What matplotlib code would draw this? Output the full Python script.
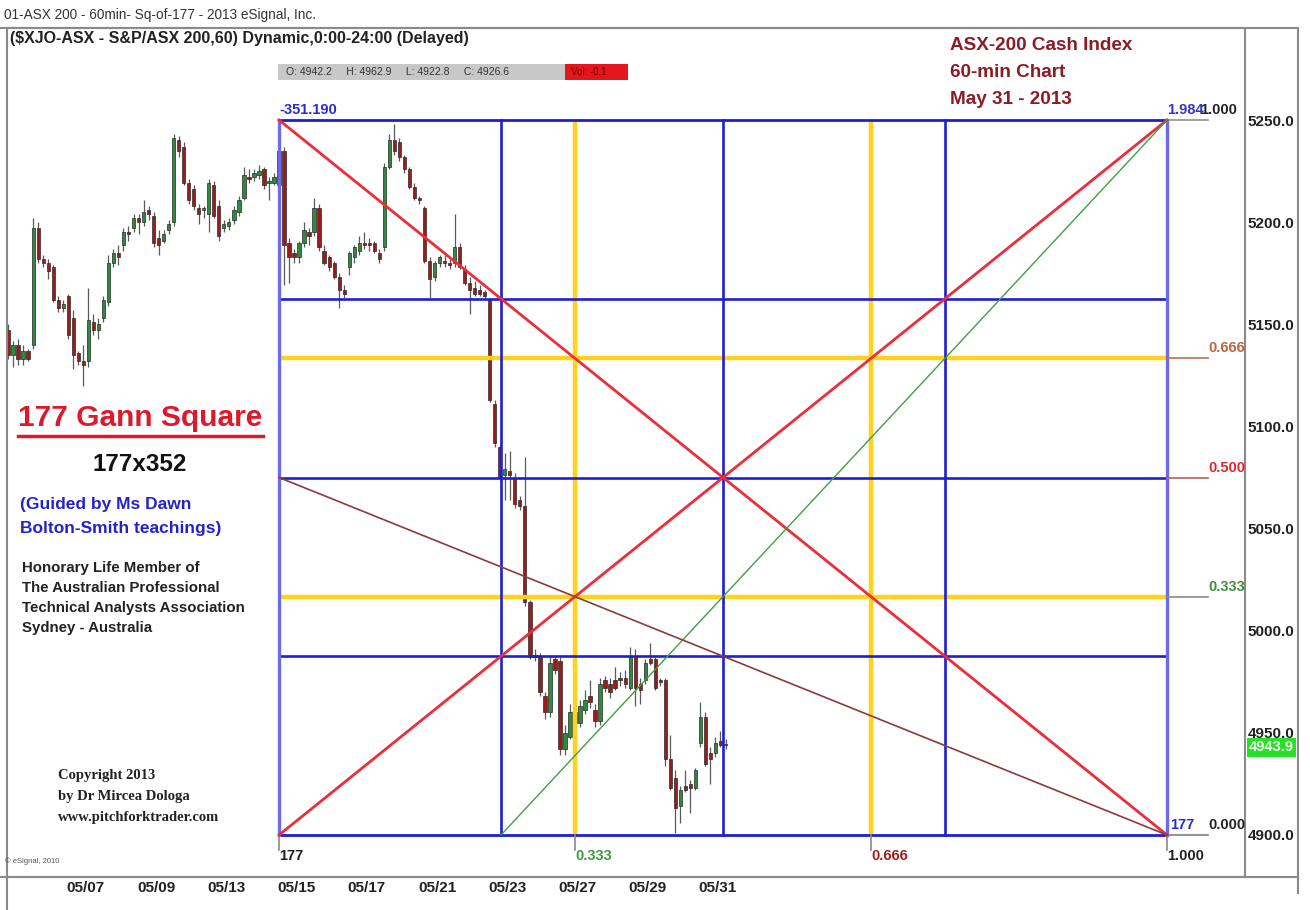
import matplotlib
matplotlib.use('Agg')
import matplotlib.pyplot as plt
import numpy as np
from matplotlib.lines import Line2D
from matplotlib.patches import Rectangle
import matplotlib.transforms as mtransforms

plt.rcParams['font.family'] = ['Liberation Sans', 'DejaVu Sans']
NARROW = ['Liberation Sans Narrow', 'Liberation Sans', 'DejaVu Sans']

# ---------------- data ----------------
first_bar = -54  # bar index of first candle (bar 0 = first hour of 05/15)

opens = [
    5147, 5135, 5140, 5133, 5137, 5140, 5197, 5182, 5180, 5178,
    5162, 5158, 5164, 5153, 5136, 5132, 5132, 5151, 5147, 5153,
    5161, 5180, 5185, 5189, 5195, 5197, 5202, 5200, 5206, 5203,
    5192, 5191, 5196, 5200, 5240, 5237, 5219, 5216, 5207, 5206,
    5204, 5218, 5208, 5197, 5198, 5201, 5205, 5212, 5222, 5222,
    5223, 5226, 5219, 5219,
    5218, 5235, 5190, 5185, 5183, 5190, 5195, 5195, 5207, 5186,
    5183, 5180, 5173, 5167, 5178, 5183, 5186, 5190, 5190, 5190,
    5185, 5188, 5227, 5240, 5239, 5232, 5226, 5217, 5212, 5207,
    5181, 5173, 5180, 5181, 5180, 5180, 5188, 5177, 5170, 5168,
    5167, 5166, 5162, 5111, 5090, 5076, 5078, 5075, 5064, 5061,
    5014, 4988, 4987, 4968, 4960, 4986, 4985, 4942, 4948, 4960,
    4955, 4961, 4968, 4961, 4956, 4976, 4974, 4976, 4977, 4977,
    4972, 4987, 4974, 4976, 4986, 4986, 4976, 4976, 4937, 4928,
    4914, 4924, 4925, 4923, 4945, 4958, 4940, 4940, 4946, 4944,
]
highs = [
    5150, 5142, 5143, 5140, 5138, 5202, 5200, 5184, 5182, 5179,
    5164, 5162, 5165, 5157, 5137, 5140, 5168, 5155, 5153, 5164,
    5184, 5187, 5189, 5197, 5198, 5204, 5204, 5211, 5208, 5205,
    5196, 5196, 5201, 5243, 5242, 5239, 5221, 5218, 5209, 5208,
    5221, 5220, 5211, 5201, 5202, 5208, 5213, 5227, 5226, 5226,
    5228, 5227, 5222, 5224,
    5238, 5237, 5192, 5187, 5191, 5200, 5197, 5212, 5209, 5189,
    5184, 5181, 5175, 5169, 5186, 5189, 5193, 5195, 5192, 5191,
    5187, 5229, 5243, 5248, 5241, 5233, 5227, 5219, 5213, 5208,
    5183, 5181, 5184, 5184, 5182, 5204, 5190, 5179, 5173, 5171,
    5169, 5167, 5163, 5113, 5091, 5087, 5088, 5077, 5066, 5085,
    5015, 4991, 4989, 4970, 4988, 4988, 4987, 4954, 4964, 4962,
    4966, 4971, 4976, 4964, 4977, 4978, 4977, 4982, 4980, 4981,
    4992, 4991, 4977, 4986, 4994, 4987, 4977, 4977, 4949, 4932,
    4924, 4932, 4927, 4933, 4965, 4960, 4943, 4948, 4951, 4947,
]
lows = [
    5133, 5129, 5130, 5130, 5132, 5138, 5180, 5178, 5172, 5161,
    5156, 5156, 5143, 5128, 5130, 5120, 5129, 5145, 5143, 5151,
    5159, 5178, 5179, 5186, 5191, 5195, 5194, 5198, 5201, 5188,
    5184, 5190, 5194, 5198, 5232, 5218, 5209, 5206, 5199, 5202,
    5195, 5202, 5191, 5195, 5196, 5199, 5203, 5211, 5219, 5220,
    5221, 5216, 5211, 5218,
    5216, 5169, 5170, 5180, 5180, 5188, 5189, 5193, 5186, 5179,
    5176, 5172, 5158, 5163, 5174, 5180, 5184, 5187, 5186, 5185,
    5180, 5186, 5226, 5233, 5230, 5224, 5216, 5211, 5209, 5180,
    5163, 5171, 5178, 5178, 5177, 5178, 5177, 5169, 5155, 5164,
    5164, 5163, 5112, 5090, 5074, 5064, 5064, 5060, 5059, 5012,
    4986, 4985, 4968, 4957, 4958, 4979, 4939, 4939, 4947, 4952,
    4953, 4959, 4962, 4953, 4954, 4970, 4967, 4971, 4973, 4972,
    4971, 4963, 4964, 4974, 4983, 4971, 4973, 4934, 4922, 4901,
    4906, 4921, 4911, 4922, 4943, 4934, 4925, 4938, 4943, 4942,
]
closes = [
    5135, 5140, 5133, 5137, 5133, 5197, 5182, 5180, 5176, 5162,
    5158, 5160, 5145, 5135, 5132, 5130, 5152, 5147, 5150, 5162,
    5180, 5185, 5183, 5195, 5194, 5202, 5200, 5205, 5204, 5190,
    5189, 5194, 5199, 5241, 5235, 5219, 5211, 5208, 5204, 5207,
    5219, 5203, 5193, 5199, 5200, 5206, 5211, 5223, 5221, 5224,
    5225, 5218, 5220, 5222,
    5235, 5189, 5183, 5183, 5190, 5196, 5193, 5207, 5188, 5180,
    5178, 5173, 5167, 5165, 5185, 5188, 5190, 5189, 5189, 5186,
    5182, 5227, 5240, 5235, 5232, 5226, 5217, 5212, 5211, 5181,
    5172, 5180, 5183, 5180, 5179, 5188, 5178, 5170, 5167, 5165,
    5165, 5164, 5113, 5092, 5075, 5079, 5076, 5062, 5061, 5014,
    4987, 4987, 4970, 4960, 4984, 4981, 4942, 4950, 4960, 4955,
    4963, 4966, 4965, 4956, 4974, 4972, 4970, 4972, 4976, 4974,
    4987, 4972, 4971, 4984, 4984, 4972, 4975, 4937, 4923, 4913,
    4922, 4922, 4923, 4932, 4958, 4935, 4937, 4945, 4944, 4943.9,
]

date_labels = ['05/07', '05/09', '05/13', '05/15', '05/17',
               '05/21', '05/23', '05/27', '05/29', '05/31']
date_days = [-6, -4, -2, 0, 2, 4, 6, 8, 10, 12]
bars_per_day = 7

price_ticks = [5250, 5200, 5150, 5100, 5050, 5000, 4950, 4900]
last_price = 4943.9

sq_start = 0        # bar index of square origin
sq_len = 177        # square width in bars
sq_low = 4900.0
sq_high = 5250.0
quarters = [0.25, 0.5, 0.75]
thirds = [1/3, 2/3]

# ---------------- figure ----------------
W, H = 1310, 910
fig = plt.figure(figsize=(W / 100, H / 100), dpi=100)
fig.patch.set_facecolor('white')

def fx(px):
    return px / W

def fy(py):
    return 1 - py / H

ax = fig.add_axes([fx(7), fy(877), fx(1245) - fx(7), fy(28) - fy(877)])
px_per_bar = (1167 - 279) / sq_len
px_per_pt = (835 - 120) / (sq_high - sq_low)
ax.set_xlim(sq_start - (279 - 7) / px_per_bar, sq_start + (1245 - 279) / px_per_bar)
ax.set_ylim(sq_low - (877 - 835) / px_per_pt, sq_high + (120 - 28) / px_per_pt)

# ---------------- candles ----------------
xs = np.arange(first_bar, first_bar + len(opens))
o = np.array(opens, float); h = np.array(highs, float)
l = np.array(lows, float); c = np.array(closes, float)
hi = np.maximum(h, np.maximum(o, c)); lo = np.minimum(l, np.minimum(o, c))
ax.vlines(xs, lo, hi, colors='#5a5a5a', lw=0.9, zorder=2)
bw = 0.66
for x_, o_, c_ in zip(xs, o, c):
    up = c_ >= o_
    col = '#2e8a3c' if up else '#9c1c1c'
    bottom = min(o_, c_)
    height = max(abs(c_ - o_), 0.8)
    ax.add_patch(Rectangle((x_ - bw / 2, bottom), bw, height, facecolor=col,
                           edgecolor='#2a2a2a', lw=0.5, zorder=2.5))

# ---------------- Gann square ----------------
x0, x1 = sq_start, sq_start + sq_len
rng = sq_high - sq_low
blue = '#1e1ed2'
blue_edge = '#6c6ae6'
gold = '#ffd21c'
red = '#ec2d3a'

for f in thirds:
    ax.plot([x0, x1], [sq_low + f * rng] * 2, color=gold, lw=3.2, zorder=3, solid_capstyle='butt')
    ax.plot([x0 + f * sq_len] * 2, [sq_low, sq_high], color=gold, lw=3.2, zorder=3, solid_capstyle='butt')
for f in quarters:
    ax.plot([x0, x1], [sq_low + f * rng] * 2, color=blue, lw=1.9, zorder=4)
    ax.plot([x0 + f * sq_len] * 2, [sq_low, sq_high], color=blue, lw=1.9, zorder=4)
ax.plot([x0, x1], [sq_high, sq_high], color=blue, lw=2.0, zorder=4)
ax.plot([x0, x1], [sq_low, sq_low], color=blue, lw=2.0, zorder=4)
ax.plot([x0, x0], [sq_low, sq_high], color=blue_edge, lw=2.4, zorder=4)
ax.plot([x1, x1], [sq_low, sq_high], color=blue_edge, lw=2.4, zorder=4)

ax.plot([x0, x1], [sq_high, sq_low], color=red, lw=2.0, zorder=5)
ax.plot([x0, x1], [sq_low, sq_high], color=red, lw=2.0, zorder=5)
ax.plot([x0 + 0.25 * sq_len, x1], [sq_low, sq_high], color='#3fa03f', lw=1.0, zorder=5)
ax.plot([x0, x1], [sq_low + 0.5 * rng, sq_low], color='#8e3a3a', lw=1.2, zorder=5)

# right stubs and labels
stub_end = x1 + (1208 - 1167) / px_per_bar
lab_x = stub_end
stubs = [(1.0, '#909090'), (2/3, '#b5714f'), (0.5, '#b56060'), (1/3, '#8a8a8a'), (0.0, '#808080')]
for f, col in stubs:
    ax.plot([x1, stub_end], [sq_low + f * rng] * 2, color=col, lw=1.2, zorder=4)

def sqtext(x, y, s, color, dx=0, dy=0, ha='left', va='bottom', size=10.5):
    ax.annotate(s, (x, y), xytext=(dx, dy), textcoords='offset pixels', ha=ha, va=va,
                color=color, fontsize=size, fontweight='bold', zorder=6,
                annotation_clip=False).set_clip_on(True)

sqtext(lab_x, sq_low + 2/3 * rng, '0.666', '#c0643c', dy=3)
sqtext(lab_x, sq_low + 0.5 * rng, '0.500', '#e02828', dy=3)
sqtext(lab_x, sq_low + 1/3 * rng, '0.333', '#3f8f3f', dy=3)
sqtext(lab_x, sq_low, '0.000', '#222222', dy=3)
sqtext(x1, sq_low, '177', '#2b2bd0', dx=3, dy=3)
sqtext(x1, sq_high, '1.984', '#3434d0', dy=3)
sqtext(x1 + (1200 - 1167) / px_per_bar, sq_high, '1.000', '#222222', dy=3)
sqtext(x0, sq_high, '-351.190', '#2b2bd0', dy=3)

# bottom stubs and labels
for f, s, col in [(0.0, '177', '#222222'), (1/3, '0.333', '#3f9a3f'),
                  (2/3, '0.666', '#a02020'), (1.0, '1.000', '#222222')]:
    xx = x0 + f * sq_len
    ax.plot([xx, xx], [sq_low, sq_low - 15 / px_per_pt], color='#8a8a8a', lw=1.2, zorder=4)
    sqtext(xx, sq_low, s, col, dy=-14, va='top')

# ---------------- axes styling ----------------
for sp in ax.spines.values():
    sp.set_color('#8a8a8a')
    sp.set_linewidth(1.5)
ax.yaxis.tick_right()
ax.set_yticks(price_ticks)
ax.set_yticklabels([f'{v:.1f}' for v in price_ticks])
ax.tick_params(axis='y', length=0, pad=2, labelsize=11, labelcolor='#222222')
for t in ax.get_yticklabels():
    t.set_fontweight('bold')
ax.set_xticks([bars_per_day * d + 3.5 for d in date_days])
ax.set_xticklabels(date_labels)
ax.tick_params(axis='x', length=0, pad=3, labelsize=11, labelcolor='#222222')
for t in ax.get_xticklabels():
    t.set_fontweight('bold')
    t.set_family(NARROW)

# last price tag
trans = mtransforms.blended_transform_factory(ax.transAxes, ax.transData)
ax.text(1.003, last_price - 1.0, f'{last_price:.1f}', transform=trans, ha='left', va='center',
        fontsize=10.5, fontweight='bold', color='#eaffea',
        bbox=dict(boxstyle='square,pad=0.15', fc='#28e028', ec='none'), clip_on=False, zorder=7)

# outer frame lines
fig.add_artist(Line2D([fx(0), fx(1298)], [fy(28), fy(28)], color='#8a8a8a', lw=1.5))
fig.add_artist(Line2D([fx(1298), fx(1298)], [fy(28), fy(893)], color='#8a8a8a', lw=1.5))
fig.add_artist(Line2D([fx(0), fx(1298)], [fy(877), fy(877)], color='#8a8a8a', lw=1.5))
fig.add_artist(Line2D([fx(7), fx(7)], [fy(877), fy(910)], color='#8a8a8a', lw=1.5))

# ---------------- header texts ----------------
fig.text(fx(4), fy(15), '01-ASX 200 - 60min- Sq-of-177 - 2013 eSignal, Inc.', ha='left', va='center',
         fontsize=9.8, color='#333333', family=NARROW)
fig.text(fx(10), fy(39), '($XJO-ASX - S&P/ASX 200,60) Dynamic,0:00-24:00 (Delayed)', ha='left',
         va='center', fontsize=11.5, fontweight='bold', color='#222222', family=NARROW)

fig.add_artist(Rectangle((fx(278), fy(80)), fx(565) - fx(278), fy(64) - fy(80),
                         transform=fig.transFigure, fc='#c8c8c8', ec='none'))
fig.add_artist(Rectangle((fx(565), fy(80)), fx(628) - fx(565), fy(64) - fy(80),
                         transform=fig.transFigure, fc='#e3161b', ec='none'))
fig.text(fx(286), fy(72), 'O: 4942.2     H: 4962.9     L: 4922.8     C: 4926.6', ha='left',
         va='center', fontsize=7.5, color='#333333')
fig.text(fx(571), fy(72), 'Vol: -0.1', ha='left', va='center', fontsize=7, color='#7a0000')

for i, s in enumerate(['ASX-200 Cash Index', '60-min Chart', 'May 31 - 2013']):
    fig.text(fx(950), fy(46 + 26.5 * i), s, ha='left', va='center', fontsize=13.6,
             fontweight='bold', color='#8b1c24')

# ---------------- left panel texts ----------------
fig.text(fx(140), fy(418), '177 Gann Square', ha='center', va='center', fontsize=21.5,
         fontweight='bold', color='#dc1a2c')
fig.add_artist(Line2D([fx(18), fx(263)], [fy(436), fy(436)], color='#dc1a2c', lw=2.5))
fig.text(fx(140), fy(465), '177x352', ha='center', va='center', fontsize=17.5,
         fontweight='bold', color='#111111')
fig.text(fx(20), fy(505), '(Guided by Ms Dawn', ha='left', va='center', fontsize=12.5,
         fontweight='bold', color='#2323cc')
fig.text(fx(20), fy(528), 'Bolton-Smith teachings)', ha='left', va='center', fontsize=12.5,
         fontweight='bold', color='#2323cc')
for i, s in enumerate(['Honorary Life Member of', 'The Australian Professional',
                       'Technical Analysts Association', 'Sydney - Australia']):
    fig.text(fx(22), fy(568 + 20 * i), s, ha='left', va='center', fontsize=10.8,
             fontweight='bold', color='#222222')
for i, s in enumerate(['Copyright 2013', 'by Dr Mircea Dologa', 'www.pitchforktrader.com']):
    fig.text(fx(58), fy(775 + 21.5 * i), s, ha='left', va='center', fontsize=10.5,
             fontweight='bold', color='#222222', family=['Liberation Serif', 'DejaVu Serif'])
fig.text(fx(5), fy(861), '\u00a9 eSignal, 2010', ha='left', va='center', fontsize=5.5,
         color='#555555')

fig.savefig('out.png', dpi=100, facecolor='white')
